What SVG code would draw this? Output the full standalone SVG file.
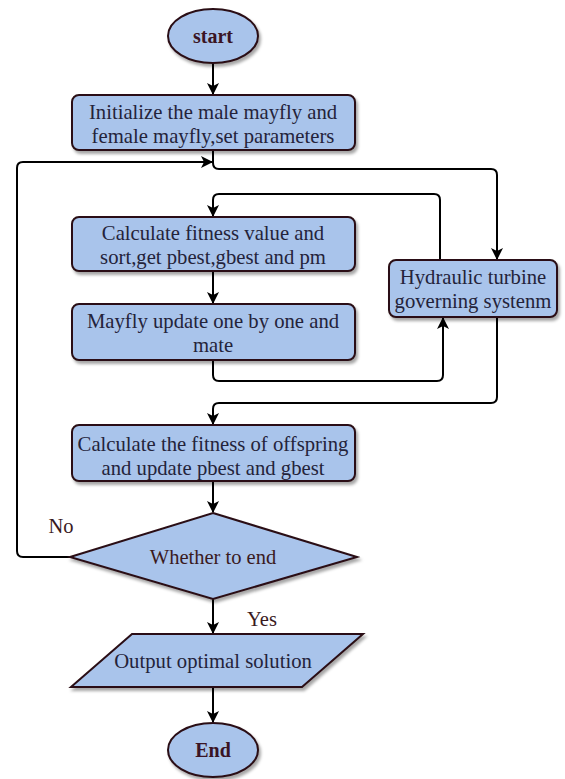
<svg xmlns="http://www.w3.org/2000/svg" width="565" height="779" viewBox="0 0 565 779">
<defs>
<filter id="sh" x="-10%" y="-10%" width="130%" height="140%">
<feDropShadow dx="2" dy="3" stdDeviation="1.5" flood-color="#000" flood-opacity="0.35"/>
</filter>
<marker id="ah" markerWidth="12" markerHeight="12" viewBox="0 0 12 12" refX="11" refY="6" orient="auto" markerUnits="userSpaceOnUse">
<path d="M0,0 L12,6 L0,12 L3,6 z" fill="#000"/>
</marker>
</defs>
<style>
.n{fill:#a9c4eb;stroke:#2a0f14;stroke-width:2;filter:url(#sh)}
.t{font-family:"Liberation Serif","Times New Roman",serif;font-size:20.7px;fill:#24233a;text-anchor:middle}
.b{font-weight:bold;fill:#3a1424;font-size:20px}
.l{font-family:"Liberation Serif","Times New Roman",serif;font-size:20.5px;fill:#3a1a1e;text-anchor:middle}
.c{fill:none;stroke:#000;stroke-width:2;marker-end:url(#ah)}
</style>
<rect width="565" height="779" fill="#fff"/>
<g id="connectors">
<path class="c" d="M213,63 V94"/>
<path class="c" d="M213,150 V163 Q213,169 219,169 H491 Q497,169 497,175 V259"/>
<path class="c" d="M70,557 H23 Q17,557 17,551 V168 Q17,162 23,162 H212"/>
<path class="c" d="M440,260 V200 Q440,194 434,194 H219 Q213,194 213,200 V216"/>
<path class="c" d="M213,271 V303"/>
<path class="c" d="M213,360 V375 Q213,381 219,381 H437 Q443,381 443,375 V318"/>
<path class="c" d="M497,317 V397 Q497,403 491,403 H219 Q213,403 213,409 V424"/>
<path class="c" d="M213,481 V512"/>
<path class="c" d="M213,599 V633"/>
<path class="c" d="M213,687 V722"/>
</g>
<g id="start">
<ellipse class="n" cx="213" cy="36" rx="45" ry="27"/>
<text class="t b" x="213" y="43">start</text>
</g>
<g id="init">
<rect class="n" x="72" y="95" width="283" height="55" rx="7"/>
<text class="t" x="213" y="119">Initialize the male mayfly and</text>
<text class="t" x="213" y="143">female mayfly,set parameters</text>
</g>
<g id="calc">
<rect class="n" x="72" y="217" width="283" height="54" rx="7"/>
<text class="t" x="213" y="240">Calculate fitness value and</text>
<text class="t" x="213" y="264">sort,get pbest,gbest and pm</text>
</g>
<g id="mayfly">
<rect class="n" x="72" y="304" width="283" height="56" rx="7"/>
<text class="t" x="213" y="328">Mayfly update one by one and</text>
<text class="t" x="213" y="352">mate</text>
</g>
<g id="hydraulic">
<rect class="n" x="389" y="260" width="168" height="57" rx="7"/>
<text class="t" x="473" y="284">Hydraulic turbine</text>
<text class="t" x="473" y="308">governing systenm</text>
</g>
<g id="offspring">
<rect class="n" x="72" y="425" width="283" height="56" rx="7"/>
<text class="t" x="213" y="451">Calculate the fitness of offspring</text>
<text class="t" x="213" y="475">and update pbest and gbest</text>
</g>
<g id="decision">
<polygon class="n" points="213,513 357,557 213,599 70,557"/>
<text class="l" x="213" y="564">Whether to end</text>
</g>
<g id="output">
<polygon class="n" points="132,634 363,634 302,687 71,687"/>
<text class="t" x="213" y="668">Output optimal solution</text>
</g>
<g id="end">
<ellipse class="n" cx="213" cy="750" rx="45" ry="27"/>
<text class="t b" x="213" y="757">End</text>
</g>
<g id="labels">
<text class="l" x="61" y="533">No</text>
<text class="l" x="262" y="626">Yes</text>
</g>
</svg>
